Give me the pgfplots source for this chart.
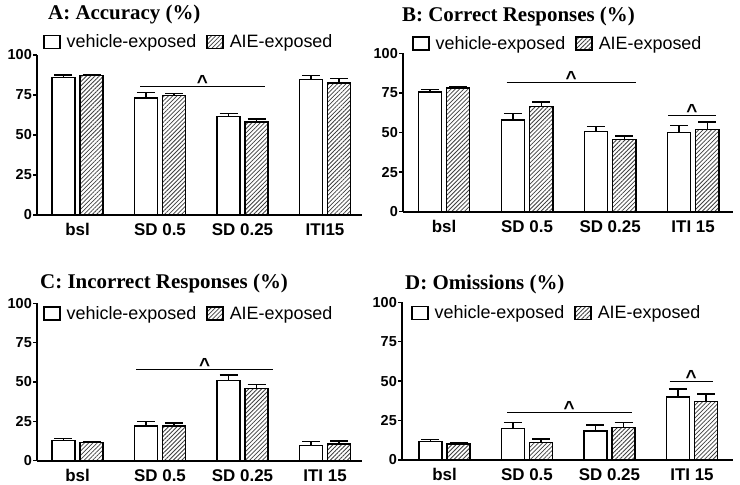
\documentclass[border=0pt]{standalone}
\usepackage{fontspec}
\setmainfont{Liberation Sans}
\newfontfamily\titlefont{Liberation Serif}
\usepackage{pgfplots}
\pgfplotsset{compat=1.18}
\usetikzlibrary{patterns.meta}

\tikzset{sig/.style={line width=1pt, black}}
\pgfplotsset{
  base/.style={
    scale only axis,
    ymin=0, ymax=100,
    ytick={0,25,50,75,100},
    xtick={0,1,2,3},
    axis x line*=bottom, axis y line*=left,
    axis line style={line width=1.8pt,-},
    tick align=outside,
    ytick style={line width=1.5pt, black},
    xtick style={draw=none},
    major tick length=4bp,
    /pgf/number format/assume math mode=true,
    yticklabel style={font=\fontsize{14.5}{16}\selectfont\bfseries, inner sep=1bp},
    xticklabel style={font=\fontsize{17}{18}\selectfont\bfseries, inner sep=0pt, yshift=-4.5bp},
    legend columns=2,
    legend cell align=left,
    legend style={draw=none, fill=none, inner sep=0pt, font=\fontsize{18}{19}\selectfont,
      /tikz/every even column/.append style={column sep=8bp},
      /tikz/every odd column/.append style={column sep=4bp}},
    clip=false,
  },
  veh/.style={ybar, bar width=0.28, bar shift=0, fill=white, draw=black, line width=1.4pt,
    /pgfplots/legend image code/.code={\draw[line width=1.5pt, draw=black, fill=white] (0bp,-6.5bp) rectangle (16bp,6.5bp);},
    error bars/.cd, y dir=plus, y explicit,
    error bar style={line width=1.3pt, draw=black},
    error mark options={rotate=90, mark size=9bp, line width=1.3pt, draw=black}},
  aie/.style={ybar, bar width=0.28, bar shift=0, draw=black, line width=1.4pt,
    preaction={fill=white},
    pattern={Lines[angle=45,distance=3bp,line width=0.8bp]}, pattern color=black!75,
    /pgfplots/legend image code/.code={\draw[line width=1.5pt, draw=black, preaction={fill=white}, pattern={Lines[angle=45,distance=3bp,line width=0.8bp]}, pattern color=black!75] (0bp,-6.5bp) rectangle (16bp,6.5bp);},
    error bars/.cd, y dir=plus, y explicit,
    error bar style={line width=1.3pt, draw=black},
    error mark options={rotate=90, mark size=9bp, line width=1.3pt, draw=black}},
}
\newcommand{\caret}{\fontsize{19}{19}\selectfont\bfseries\textasciicircum}

\begin{document}
\begin{tikzpicture}
\path[use as bounding box] (0,0) rectangle (740bp,485bp);

% ---------- A ----------
\begin{axis}[base, at={(37bp,270bp)}, anchor=south west, width=325bp, height=160bp,
  xmin=-0.491, xmax=3.448,
  xticklabels={bsl, SD 0.5, SD 0.25, ITI15},
  legend style={at={(0,1)}, anchor=west, xshift=6bp, yshift=13bp}]
\addplot[veh] coordinates {(-0.17,86) +- (0,1.5) (0.83,73) +- (0,3.5) (1.83,61.5) +- (0,2) (2.83,84.5) +- (0,2.7)};
\addlegendentry{vehicle-exposed}
\addplot[aie] coordinates {(0.17,87) +- (0,0.5) (1.17,74.5) +- (0,1.6) (2.17,58) +- (0,2) (3.17,82.5) +- (0,2.7)};
\addlegendentry{AIE-exposed}
\draw[sig] (axis cs:0.758,80.6) -- (axis cs:2.273,80.6);
\node[anchor=base, inner sep=0pt, yshift=-2bp] at (axis cs:1.515,80.6) {\caret};
\node[anchor=base west, inner sep=0pt, font=\titlefont\fontsize{21}{22}\selectfont\bfseries, xshift=11bp, yshift=35bp] at (rel axis cs:0,1) {A: Accuracy (\%)};
\end{axis}

% ---------- B ----------
\begin{axis}[base, at={(403bp,273.3bp)}, anchor=south west, width=330bp, height=158.4bp,
  xmin=-0.494, xmax=3.48,
  xticklabels={bsl, SD 0.5, SD 0.25, ITI 15},
  legend style={at={(0,1)}, anchor=west, xshift=9bp, yshift=10bp}]
\addplot[veh] coordinates {(-0.17,75.5) +- (0,1.5) (0.83,58) +- (0,4) (1.83,50.5) +- (0,3.4) (2.83,50) +- (0,4.4)};
\addlegendentry{vehicle-exposed}
\addplot[aie] coordinates {(0.17,78) +- (0,0.8) (1.17,66.5) +- (0,2.7) (2.17,45.7) +- (0,2.1) (3.17,52) +- (0,4.6)};
\addlegendentry{AIE-exposed}
\draw[sig] (axis cs:0.755,81.5) -- (axis cs:2.31,81.5);
\node[anchor=base, inner sep=0pt, yshift=-2bp] at (axis cs:1.53,81.5) {\caret};
\draw[sig] (axis cs:2.70,61) -- (axis cs:3.27,61);
\node[anchor=base, inner sep=0pt, yshift=-2bp] at (axis cs:2.985,61) {\caret};
\node[anchor=base west, inner sep=0pt, font=\titlefont\fontsize{21}{22}\selectfont\bfseries, xshift=-1bp, yshift=31.6bp] at (rel axis cs:0,1) {B: Correct Responses (\%)};
\end{axis}

% ---------- C ----------
\begin{axis}[base, at={(37bp,24.3bp)}, anchor=south west, width=325bp, height=157.4bp,
  xmin=-0.491, xmax=3.448,
  xticklabels={bsl, SD 0.5, SD 0.25, ITI 15},
  legend style={at={(0,1)}, anchor=west, xshift=6bp, yshift=-10bp}]
\addplot[veh] coordinates {(-0.17,12.8) +- (0,1.3) (0.83,22) +- (0,3) (1.83,51) +- (0,3.5) (2.83,9.8) +- (0,2.3)};
\addlegendentry{vehicle-exposed}
\addplot[aie] coordinates {(0.17,11.4) +- (0,0.8) (1.17,22) +- (0,2) (2.17,46) +- (0,2.3) (3.17,10.6) +- (0,2)};
\addlegendentry{AIE-exposed}
\draw[sig] (axis cs:0.71,57.7) -- (axis cs:2.37,57.7);
\node[anchor=base, inner sep=0pt, yshift=-2bp] at (axis cs:1.54,57.7) {\caret};
\node[anchor=base west, inner sep=0pt, font=\titlefont\fontsize{21}{22}\selectfont\bfseries, xshift=3bp, yshift=15bp] at (rel axis cs:0,1) {C: Incorrect Responses (\%)};
\end{axis}

% ---------- D ----------
\begin{axis}[base, at={(402bp,25bp)}, anchor=south west, width=331bp, height=157.7bp,
  xmin=-0.515, xmax=3.497,
  xticklabels={bsl, SD 0.5, SD 0.25, ITI 15},
  legend style={at={(0,1)}, anchor=west, xshift=9bp, yshift=-10.5bp}]
\addplot[veh] coordinates {(-0.17,11.6) +- (0,1.5) (0.83,19.8) +- (0,4.2) (1.83,18.4) +- (0,3.8) (2.83,40) +- (0,5)};
\addlegendentry{vehicle-exposed}
\addplot[aie] coordinates {(0.17,10.2) +- (0,1) (1.17,11.2) +- (0,2.1) (2.17,20.5) +- (0,3.4) (3.17,37) +- (0,4.8)};
\addlegendentry{AIE-exposed}
\draw[sig] (axis cs:0.758,30) -- (axis cs:2.27,30);
\node[anchor=base, inner sep=0pt, yshift=-2bp] at (axis cs:1.51,30) {\caret};
\draw[sig] (axis cs:2.73,49.7) -- (axis cs:3.25,49.7);
\node[anchor=base, inner sep=0pt, yshift=-2bp] at (axis cs:2.99,49.7) {\caret};
\node[anchor=base west, inner sep=0pt, font=\titlefont\fontsize{21}{22}\selectfont\bfseries, xshift=3bp, yshift=12.3bp] at (rel axis cs:0,1) {D: Omissions (\%)};
\end{axis}
\end{tikzpicture}
\end{document}
